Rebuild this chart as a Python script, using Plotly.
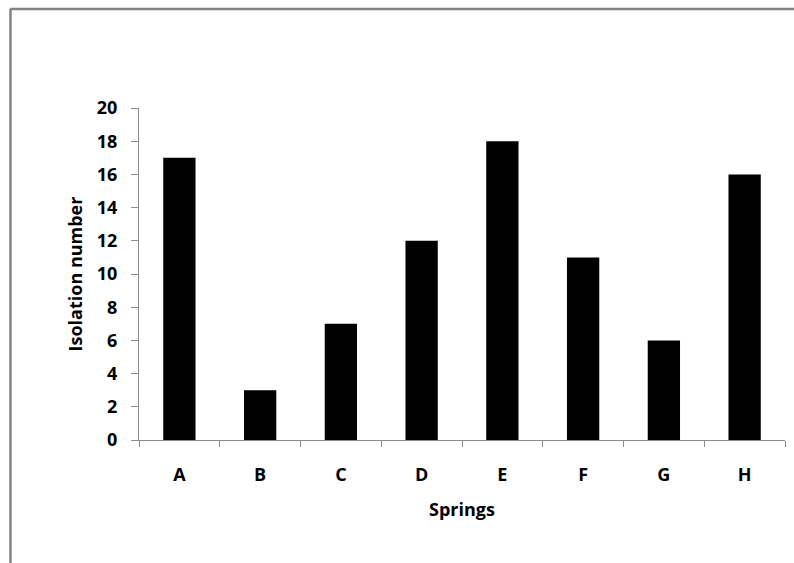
import plotly.graph_objects as go

springs = ['A', 'B', 'C', 'D', 'E', 'F', 'G', 'H']
isolation = [17, 3, 7, 12, 18, 11, 6, 16]
y_ticks = list(range(0, 21, 2))

W, H = 794, 563
L, R, T, B = 139, 9, 108, 123
pw, ph = W - L - R, H - T - B


def px_x(v):
    return (v - L) / pw


def px_y(v):
    return (H - B - v) / ph


fig = go.Figure()
fig.add_trace(go.Bar(x=springs, y=isolation, marker=dict(color='black', line=dict(width=0)),
                     width=0.4, showlegend=False))

# cadre gris (haut et gauche)
frame = dict(color='#838383', width=2.5)
fig.add_shape(type='line', xref='paper', yref='paper', x0=px_x(10), x1=px_x(800),
              y0=px_y(9), y1=px_y(9), line=frame)
fig.add_shape(type='line', xref='paper', yref='paper', x0=px_x(10.5), x1=px_x(10.5),
              y0=px_y(9), y1=px_y(580), line=frame)

fig.update_xaxes(showline=True, linecolor='#8c8c8c', linewidth=1, ticks='outside', ticklen=6,
                 tickcolor='#8c8c8c', tickson='boundaries', showgrid=False, automargin=False,
                 ticklabelstandoff=18,
                 tickfont=dict(family='Open Sans', size=18, color='black', weight='bold'),
                 title=dict(text='<b>Springs</b>', standoff=18,
                            font=dict(family='Open Sans', size=18, color='black')))
fig.update_yaxes(range=[0, 20], tickvals=y_ticks, showline=True, linecolor='#8c8c8c', linewidth=1,
                 ticks='outside', ticklen=7, tickcolor='#8c8c8c', showgrid=False, zeroline=False,
                 automargin=False, ticklabelstandoff=10,
                 tickfont=dict(family='Open Sans', size=18, color='black', weight='bold'),
                 title=dict(text='<b>Isolation number</b>', standoff=9,
                            font=dict(family='Open Sans', size=18, color='black')))
fig.update_layout(width=W, height=H, margin=dict(l=L, r=R, t=T, b=B),
                  plot_bgcolor='white', paper_bgcolor='white')
fig.write_html('out.html', config={'displayModeBar': False},
               post_script="document.body.style.margin='0';")
